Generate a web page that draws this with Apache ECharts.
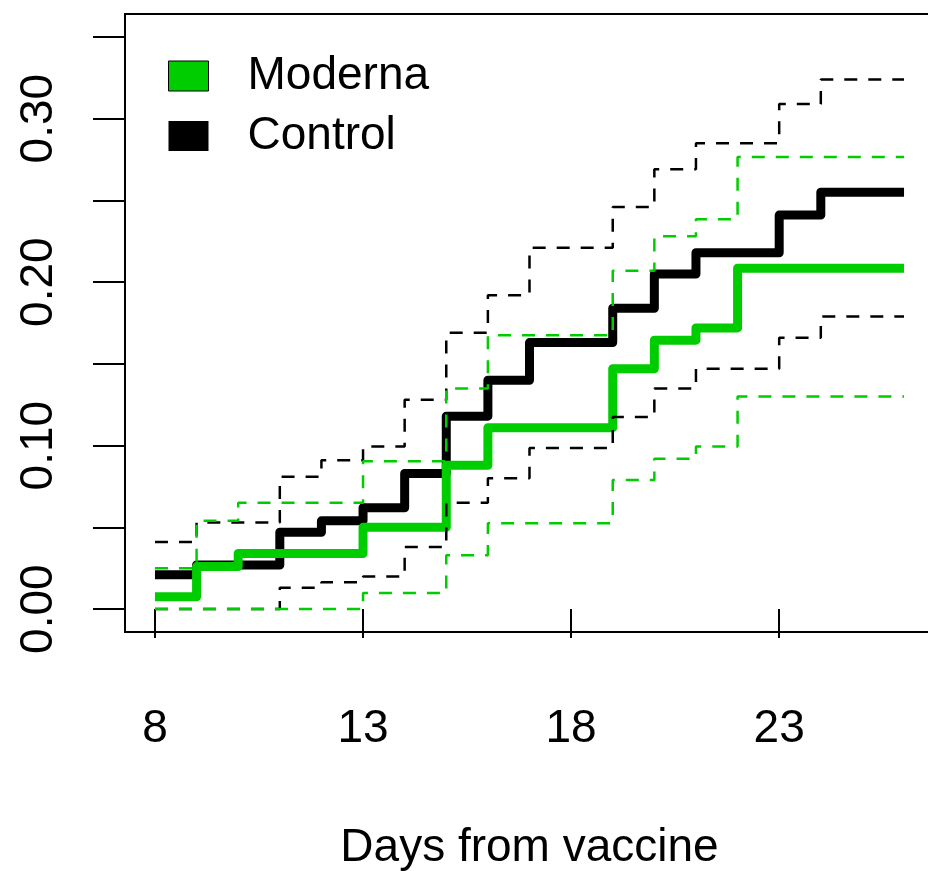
<!DOCTYPE html>
<html>
<head>
<meta charset="utf-8">
<script src="https://cdn.jsdelivr.net/npm/echarts@6/dist/echarts.min.js"></script>
<style>
  html, body { margin: 0; padding: 0; background: #fff; }
  #chart { width: 928px; height: 871px; }
</style>
</head>
<body>
<div id="chart"></div>
<script>
// step curves (day -> cumulative incidence)
var controlDays = [8, 9, 11, 12, 13, 14, 15, 16, 17, 19, 20, 21, 23, 24, 26];
var controlVals = [0.021, 0.027, 0.047, 0.054, 0.062, 0.083, 0.118, 0.140, 0.163, 0.184, 0.205, 0.218, 0.241, 0.255, 0.255];
var controlUpDays = [8, 9, 11, 12, 13, 14, 15, 16, 17, 19, 20, 21, 23, 24, 26];
var controlUpVals = [0.041, 0.053, 0.081, 0.091, 0.0995, 0.128, 0.169, 0.192, 0.221, 0.246, 0.269, 0.285, 0.309, 0.324, 0.324];
var controlLoDays = [8, 11, 12, 13, 14, 15, 16, 17, 19, 20, 21, 23, 24, 26];
var controlLoVals = [0, 0.013, 0.0165, 0.020, 0.038, 0.065, 0.080, 0.0985, 0.1175, 0.135, 0.147, 0.166, 0.179, 0.179];

var modernaDays = [8, 9, 10, 13, 15, 16, 19, 20, 21, 22, 26];
var modernaVals = [0.0075, 0.026, 0.034, 0.050, 0.088, 0.111, 0.147, 0.1645, 0.172, 0.2085, 0.2085];
var modernaUpDays = [8, 9, 10, 13, 15, 16, 19, 20, 21, 22, 26];
var modernaUpVals = [0.025, 0.054, 0.065, 0.0905, 0.135, 0.1675, 0.207, 0.228, 0.2385, 0.2765, 0.2765];
var modernaLoDays = [8, 13, 15, 16, 19, 20, 21, 22, 26];
var modernaLoVals = [0, 0.0098, 0.033, 0.0525, 0.079, 0.092, 0.0995, 0.130, 0.130];

var xTicks = [8, 13, 18, 23];
var yTicks = [0, 0.05, 0.1, 0.15, 0.2, 0.25, 0.3, 0.35];
var yLabels = [0, 0.1, 0.2, 0.3];

var green = '#00cd00';
var font = 'Liberation Sans, Arial, sans-serif';

function pairs(days, vals) {
    return days.map(function (d, i) { return [d, vals[i]]; });
}

function solid(name, color, days, vals) {
    return {
        name: name,
        type: 'line',
        step: 'end',
        showSymbol: false,
        symbol: 'none',
        color: color,
        lineStyle: { color: color, width: 9, join: 'round', cap: 'butt' },
        data: pairs(days, vals)
    };
}

function dashed(name, color, days, vals) {
    return {
        name: name,
        type: 'line',
        step: 'end',
        showSymbol: false,
        symbol: 'none',
        color: color,
        lineStyle: { color: color, width: 2.5, type: [13, 11] },
        data: pairs(days, vals)
    };
}

var myChart = echarts.init(document.getElementById('chart'));
var option = {
    animation: false,
    backgroundColor: '#fff',
    grid: {
        left: 125,
        top: 14,
        right: -6,
        bottom: 239,
        outerBoundsMode: 'none',
        show: true,
        borderColor: '#000',
        borderWidth: 2,
        containLabel: false
    },
    legend: {
        orient: 'vertical',
        left: 168,
        top: 53,
        padding: 0,
        itemWidth: 40,
        itemHeight: 30,
        itemGap: 14,
        textStyle: { fontSize: 46, fontFamily: font, color: '#000', padding: [0, 0, 0, 34] },
        data: [
            { name: 'Moderna', icon: 'rect', itemStyle: { color: green, borderColor: '#000', borderWidth: 1 } },
            { name: 'Control', icon: 'rect', itemStyle: { color: '#000' } }
        ]
    },
    xAxis: {
        type: 'value',
        min: 7.28,
        max: 26.72,
        name: 'Days from vaccine',
        nameLocation: 'middle',
        nameGap: 193,
        nameTextStyle: { fontSize: 46, fontFamily: font, color: '#000' },
        axisLine: { show: false },
        splitLine: { show: false },
        axisTick: {
            show: true,
            length: 29,
            customValues: xTicks,
            lineStyle: { color: '#000', width: 2 }
        },
        axisLabel: {
            customValues: xTicks,
            margin: 74,
            fontSize: 46,
            fontFamily: font,
            color: '#000'
        }
    },
    yAxis: {
        type: 'value',
        min: -0.014,
        max: 0.364,
        axisLine: { show: false },
        splitLine: { show: false },
        axisTick: {
            show: true,
            length: 32,
            customValues: yTicks,
            lineStyle: { color: '#000', width: 2 }
        },
        axisLabel: {
            customValues: yLabels,
            rotate: 90,
            margin: 63,
            fontSize: 46,
            fontFamily: font,
            color: '#000',
            formatter: function (v) { return v.toFixed(2); }
        }
    },
    series: [
        solid('Control', '#000', controlDays, controlVals),
        solid('Moderna', green, modernaDays, modernaVals),
        dashed('Control upper', '#000', controlUpDays, controlUpVals),
        dashed('Control lower', '#000', controlLoDays, controlLoVals),
        dashed('Moderna upper', green, modernaUpDays, modernaUpVals),
        dashed('Moderna lower', green, modernaLoDays, modernaLoVals)
    ]
};

myChart.setOption(option);

window.onresize = function () {
    myChart.resize();
};
</script>
</body>
</html>
